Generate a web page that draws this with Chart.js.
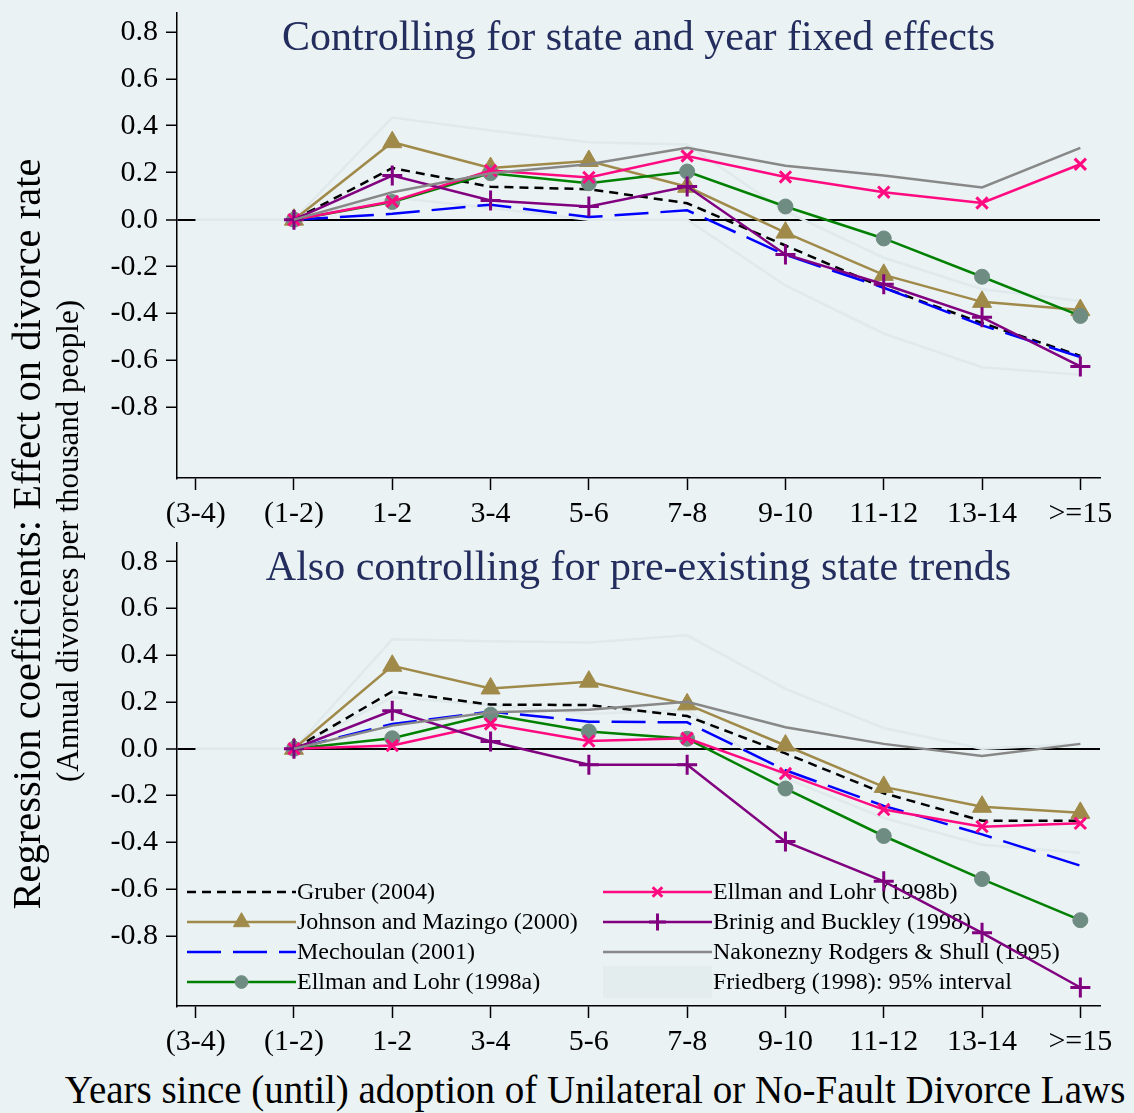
<!DOCTYPE html>
<html><head><meta charset="utf-8">
<script src="https://cdn.jsdelivr.net/npm/chart.js@4/dist/chart.umd.min.js"></script>
<style>
html,body{margin:0;padding:0;background:#eaf2f3;width:1134px;height:1113px;overflow:hidden;font-family:"Liberation Serif","Times New Roman",serif;}
canvas{position:absolute;left:0;}
#c1{top:0;}
#c2{top:530px;}
.rot{position:absolute;width:1000px;text-align:center;white-space:nowrap;transform:rotate(-90deg);color:#000;}
#ytitle{left:-473px;top:514px;font-size:40.5px;line-height:40px;}
#ysub{left:-432px;top:525px;font-size:31px;line-height:32px;}
#xtitle{position:absolute;left:0;width:1190px;top:1068px;text-align:center;font-size:39px;line-height:44px;white-space:nowrap;color:#000;}
</style></head>
<body>
<canvas id="c1" width="1134" height="530"></canvas>
<canvas id="c2" width="1134" height="530"></canvas>
<div id="ytitle" class="rot">Regression coefficients: Effect on divorce rate</div>
<div id="ysub" class="rot">(Annual divorces per thousand people)</div>
<div id="xtitle">Years since (until) adoption of Unilateral or No-Fault Divorce Laws</div>
<script>
// ---- data ----
const categories = ['(3-4)','(1-2)','1-2','3-4','5-6','7-8','9-10','11-12','13-14','>=15'];
const yTickValues = [-0.8,-0.6,-0.4,-0.2,0,0.2,0.4,0.6,0.8];
const panelTitles = ['Controlling for state and year fixed effects','Also controlling for pre-existing state trends'];
const seriesNames = ['Gruber (2004)','Johnson and Mazingo (2000)','Mechoulan (2001)','Ellman and Lohr (1998a)',
  'Ellman and Lohr (1998b)','Brinig and Buckley (1998)','Nakonezny Rodgers & Shull (1995)','Friedberg (1998): 95% interval'];

// top panel
const gruberA    = [null,0,0.22,0.14,0.13,0.07,-0.11,-0.29,-0.44,-0.58];
const johnsonA   = [null,0,0.33,0.22,0.25,0.14,-0.055,-0.235,-0.35,-0.385];
const mechoulanA = [null,0,0.025,0.064,0.011,0.04,-0.15,-0.29,-0.45,-0.585];
const ellmanaA   = [null,0,0.075,0.198,0.155,0.205,0.056,-0.08,-0.243,-0.41];
const ellmanbA   = [null,0,0.078,0.209,0.18,0.271,0.182,0.117,0.071,0.236];
const brinigA    = [null,0,0.188,0.082,0.056,0.141,-0.148,-0.275,-0.416,-0.625];
const nakoneznyA = [null,0,0.117,0.198,0.236,0.306,0.23,0.188,0.137,0.306];
const friedHiA   = [0,0,0.435,0.38,0.33,0.32,0.035,-0.162,-0.296,-0.346];
const friedLoA   = [0,0,0.095,0.05,0.0,0.0,-0.28,-0.485,-0.628,-0.66];

// bottom panel
const gruberB    = [null,0,0.245,0.189,0.187,0.14,-0.02,-0.19,-0.308,-0.308];
const johnsonB   = [null,0,0.355,0.258,0.287,0.19,0.014,-0.163,-0.248,-0.274];
const mechoulanB = [null,0,0.106,0.159,0.116,0.113,-0.092,-0.244,-0.366,-0.5];
const ellmanaB   = [null,0,0.045,0.146,0.074,0.043,-0.17,-0.373,-0.557,-0.733];
const ellmanbB   = [null,0,0.014,0.106,0.033,0.045,-0.106,-0.26,-0.333,-0.319];
const brinigB    = [null,0,0.163,0.031,-0.068,-0.068,-0.397,-0.567,-0.787,-1.021];
const nakoneznyB = [null,0,0.099,0.156,0.167,0.201,0.092,0.021,-0.031,0.021];
const friedHiB   = [0,0,0.468,0.46,0.454,0.485,0.256,0.089,0.0,0.02];
const friedLoB   = [0,0,0.22,0.187,0.15,0.165,-0.126,-0.296,-0.41,-0.445];

// ---- styles ----
const FONT = '"Liberation Serif","Times New Roman",serif';
const styles = [
  {color:'#000000', dash:[9,6], width:2.5, marker:null},
  {color:'#a08a4a', dash:[], width:2.5, marker:{style:'triangle', r:11, fill:'#a08a4a', stroke:'#a08a4a', lw:1}},
  {color:'#0000ff', dash:[34,12], width:2.5, marker:null},
  {color:'#008000', dash:[], width:2.5, marker:{style:'circle', r:7.5, fill:'#6f8c82', stroke:'#6f8c82', lw:1}},
  {color:'#ff0a80', dash:[], width:2.5, marker:{style:'crossRot', r:8, fill:'#ff0a80', stroke:'#ff0a80', lw:3}},
  {color:'#800080', dash:[], width:2.5, marker:{style:'cross', r:10, fill:'#800080', stroke:'#800080', lw:3}},
  {color:'#888888', dash:[], width:2.5, marker:null},
];
const FRIED_COLOR = '#e0e9eb';
const GRID_COLOR = '#eaf2f3';

function toXY(arr){ return arr.map((v,i)=>({x:i, y:v})); }

function makeDatasets(series, hi, lo){
  const ds = series.map((vals,k)=>{
    const s = styles[k];
    const m = s.marker;
    return {
      label: seriesNames[k],
      data: toXY(vals),
      borderColor: s.color,
      borderWidth: s.width,
      borderDash: s.dash,
      pointStyle: m ? m.style : 'circle',
      pointRadius: m ? m.r : 0,
      pointBackgroundColor: m ? m.fill : s.color,
      pointBorderColor: m ? m.stroke : s.color,
      pointBorderWidth: m ? m.lw : 0,
      tension: 0,
      fill: false,
      spanGaps: false,
      order: 10 - k
    };
  });
  [hi, lo].forEach((vals,j)=>{
    ds.push({
      label: seriesNames[7] + (j? ' lo':' hi'),
      data: toXY(vals),
      borderColor: FRIED_COLOR,
      borderWidth: 2.5,
      pointRadius: 0,
      tension: 0,
      fill: false,
      order: 20
    });
  });
  return ds;
}

function drawMarker(ctx, m, x, y){
  ctx.save();
  ctx.fillStyle = m.fill; ctx.strokeStyle = m.stroke; ctx.lineWidth = m.lw;
  ctx.beginPath();
  if (m.style==='triangle'){
    for (let i=0;i<3;i++){
      const a = -Math.PI/2 + i*2*Math.PI/3;
      const px = x + Math.cos(a)*m.r, py = y + Math.sin(a)*m.r;
      i? ctx.lineTo(px,py) : ctx.moveTo(px,py);
    }
    ctx.closePath(); ctx.fill(); ctx.stroke();
  } else if (m.style==='circle'){
    ctx.arc(x,y,m.r,0,Math.PI*2); ctx.fill(); ctx.stroke();
  } else if (m.style==='cross'){
    ctx.moveTo(x-m.r,y); ctx.lineTo(x+m.r,y); ctx.moveTo(x,y-m.r); ctx.lineTo(x,y+m.r); ctx.stroke();
  } else if (m.style==='crossRot'){
    const d = m.r*Math.SQRT1_2;
    ctx.moveTo(x-d,y-d); ctx.lineTo(x+d,y+d); ctx.moveTo(x+d,y-d); ctx.lineTo(x-d,y+d); ctx.stroke();
  }
  ctx.restore();
}

const panelTitlePlugin = {
  id:'panelTitle',
  beforeDatasetsDraw(chart, args, opts){
    const {ctx, chartArea} = chart;
    ctx.save();
    ctx.font = '42px ' + FONT;
    ctx.fillStyle = '#232d5e';
    ctx.textAlign = 'center';
    ctx.textBaseline = 'middle';
    ctx.fillText(opts.text, (chartArea.left+chartArea.right)/2, chartArea.top + opts.dy);
    ctx.restore();
  }
};

const legendPlugin = {
  id:'innerLegend',
  beforeDatasetsDraw(chart, args, opts){
    if (!opts.show) return;
    const {ctx, chartArea} = chart;
    const colX = [chartArea.left+10, chartArea.left+426];
    const sampleW = 109;
    const rowY = [0,1,2,3].map(r => chartArea.top + 349 + r*30);
    ctx.save();
    ctx.font = '24px ' + FONT;
    ctx.textBaseline = 'middle';
    ctx.textAlign = 'left';
    for (let k=0;k<8;k++){
      const col = Math.floor(k/4), row = k%4;
      const x0 = colX[col], y = rowY[row];
      if (k===7){
        ctx.fillStyle = '#e4edee';
        ctx.fillRect(x0, y-16, sampleW, 32);
      } else {
        const s = styles[k];
        ctx.save();
        ctx.strokeStyle = s.color; ctx.lineWidth = s.width; ctx.setLineDash(s.dash);
        ctx.beginPath(); ctx.moveTo(x0,y); ctx.lineTo(x0+sampleW,y); ctx.stroke();
        ctx.restore();
        if (s.marker) drawMarker(ctx, Object.assign({}, s.marker, {r: s.marker.r*0.85}), x0+sampleW/2, y);
      }
      ctx.fillStyle = '#000';
      ctx.fillText(seriesNames[k], x0+sampleW+1, y+1);
    }
    ctx.restore();
  }
};

function makeChart(id, datasets, title, topPad, xAxisH, showLegend, titleDy){
  return new Chart(document.getElementById(id), {
    type:'line',
    data:{datasets},
    plugins:[panelTitlePlugin, legendPlugin],
    options:{
      responsive:false,
      animation:false,
      events:[],
      layout:{padding:{left:0, right:34, top:topPad, bottom:0}},
      plugins:{
        legend:{display:false},
        tooltip:{enabled:false},
        panelTitle:{text:title, dy:titleDy},
        innerLegend:{show:showLegend}
      },
      scales:{
        x:{
          type:'linear', min:-0.19, max:9.2,
          afterBuildTicks(scale){ scale.ticks = categories.map((_,i)=>({value:i})); },
          afterFit(scale){ scale.height = xAxisH; scale.paddingLeft = 0; scale.paddingRight = 0; },
          ticks:{ callback:(v)=>categories[v], color:'#000', font:{family:FONT, size:30}, padding:6, maxRotation:0, autoSkip:false },
          grid:{ drawOnChartArea:false, drawTicks:true, tickLength:12, tickColor:'#000', tickWidth:1.5 },
          border:{ display:true, color:'#000', width:1.5 }
        },
        y:{
          type:'linear', min:-1.1, max:0.88,
          afterBuildTicks(scale){ scale.ticks = yTickValues.map(v=>({value:v})); },
          afterFit(scale){ scale.width = 177; scale.paddingTop = 0; scale.paddingBottom = 0; },
          ticks:{ callback:(v)=>v.toFixed(1), color:'#000', font:{family:FONT, size:30}, padding:8 },
          grid:{
            color:(c)=> (c.tick && Math.abs(c.tick.value)<1e-9) ? '#000000' : GRID_COLOR,
            lineWidth:(c)=> (c.tick && Math.abs(c.tick.value)<1e-9) ? 2 : 2.5,
            drawTicks:true, tickLength:11, tickColor:'#000', tickWidth:1.5
          },
          border:{ display:true, color:'#000', width:1.5 }
        }
      }
    }
  });
}

makeChart('c1', makeDatasets([gruberA,johnsonA,mechoulanA,ellmanaA,ellmanbA,brinigA,nakoneznyA], friedHiA, friedLoA),
  panelTitles[0], 12, 52, false, 26);
makeChart('c2', makeDatasets([gruberB,johnsonB,mechoulanB,ellmanaB,ellmanbB,brinigB,nakoneznyB], friedHiB, friedLoB),
  panelTitles[1], 10, 54, true, 26);
</script>
</body></html>
